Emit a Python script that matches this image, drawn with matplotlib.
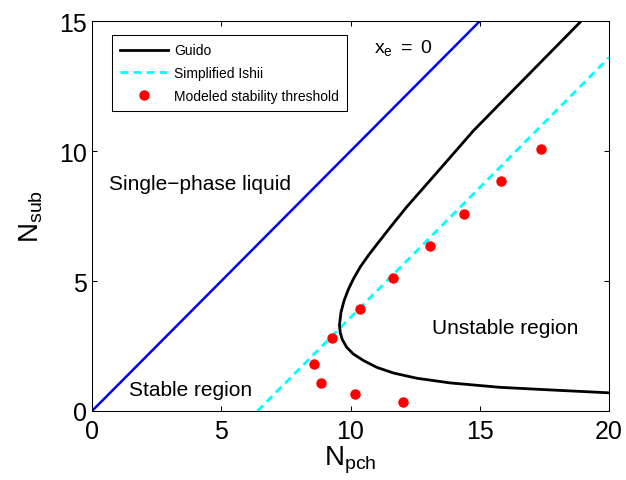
import numpy as np
import matplotlib
matplotlib.use('Agg')
import matplotlib.pyplot as plt

plt.rcParams['font.family'] = ['Liberation Sans', 'DejaVu Sans']
plt.rcParams['mathtext.fontset'] = 'custom'
plt.rcParams['mathtext.rm'] = 'Liberation Sans'
plt.rcParams['mathtext.it'] = 'Liberation Sans:italic'

# ── Data ──────────────────────────────────────────────────────────
# Guido stability boundary, lower branch -> nose -> upper branch
guido_npch = [19.97, 17.72, 15.78, 13.85, 12.56, 11.66, 11.01, 10.50, 10.11,
              9.85, 9.68, 9.60, 9.57, 9.63, 9.75, 9.92, 10.12, 10.38, 10.70,
              11.05, 11.53, 12.17, 13.46, 14.75, 16.00, 18.92]
guido_nsub = [0.70, 0.81, 0.91, 1.08, 1.26, 1.46, 1.68, 1.94, 2.19,
              2.45, 2.75, 3.02, 3.30, 3.80, 4.25, 4.69, 5.10, 5.55, 6.00,
              6.45, 7.06, 7.85, 9.31, 10.78, 12.05, 15.00]

# Simplified Ishii line (end points)
ishii_npch = [6.40, 20.0]
ishii_nsub = [0.0, 13.6]

# Zero-quality line N_sub = N_pch
zq_npch = [0.0, 15.0]
zq_nsub = [0.0, 15.0]

# Modeled stability threshold
model_npch = [8.60, 8.85, 9.27, 10.19, 10.37, 11.64, 12.02, 13.08, 14.39, 15.82, 17.37]
model_nsub = [1.81, 1.06, 2.80, 0.64, 3.92, 5.12, 0.36, 6.35, 7.59, 8.83, 10.08]

xticks = [0, 5, 10, 15, 20]
yticks = [0, 5, 10, 15]

# ── Figure ────────────────────────────────────────────────────────
fig = plt.figure(figsize=(6.26, 4.81), dpi=100)
ax = fig.add_axes([0.147, 0.1435, 0.826, 0.8105])

ax.plot(zq_npch, zq_nsub, color='#0000FF', lw=1.8, zorder=2)
h_guido, = ax.plot(guido_npch, guido_nsub, color='black', lw=2.0,
                   label='Guido', zorder=3, solid_joinstyle='round')
h_ishii, = ax.plot(ishii_npch, ishii_nsub, color='#00FFFF', lw=2.0,
                   dashes=(2.8, 1.9), label='Simplified Ishii', zorder=2)
h_model, = ax.plot(model_npch, model_nsub, ls='none', marker='o', ms=6.5,
                   color='#FF0000', mec='#FF0000',
                   label='Modeled stability threshold', zorder=4)

ax.set_xlim(0, 20)
ax.set_ylim(0, 15)
ax.set_xticks(xticks)
ax.set_yticks(yticks)
ax.tick_params(direction='in', top=True, right=True, length=3.6, width=0.75,
               labelsize=18)
ax.tick_params(axis='x', pad=6)
ax.tick_params(axis='y', pad=3.5)
for s in ax.spines.values():
    s.set_linewidth(0.75)

ax.set_xlabel(r'$\mathrm{N_{pch}}$', fontsize=20)
ax.set_ylabel(r'$\mathrm{N_{sub}}$', fontsize=20)
ax.xaxis.set_label_coords(0.5, -0.085)
ax.yaxis.set_label_coords(-0.091, 0.5)

ax.text(0.66, 8.77, 'Single\u2212phase liquid', fontsize=15, va='center', ha='left')
ax.text(1.44, 0.82, 'Stable region', fontsize=15, va='center', ha='left')
ax.text(13.14, 3.22, 'Unstable region', fontsize=15, va='center', ha='left')
ax.text(10.91, 13.8, r'$\mathrm{x_e\ =\ 0}$', fontsize=14, va='baseline', ha='left')

leg = ax.legend(handles=[h_guido, h_ishii, h_model], loc='upper left',
                bbox_to_anchor=(0.0387, 0.964), borderaxespad=0, fontsize=10,
                fancybox=False, framealpha=1, edgecolor='black',
                handlelength=3.4, handletextpad=0.45, labelspacing=0.62,
                borderpad=0.6)
leg.get_frame().set_linewidth(0.75)

fig.savefig('out.png', dpi=100)
